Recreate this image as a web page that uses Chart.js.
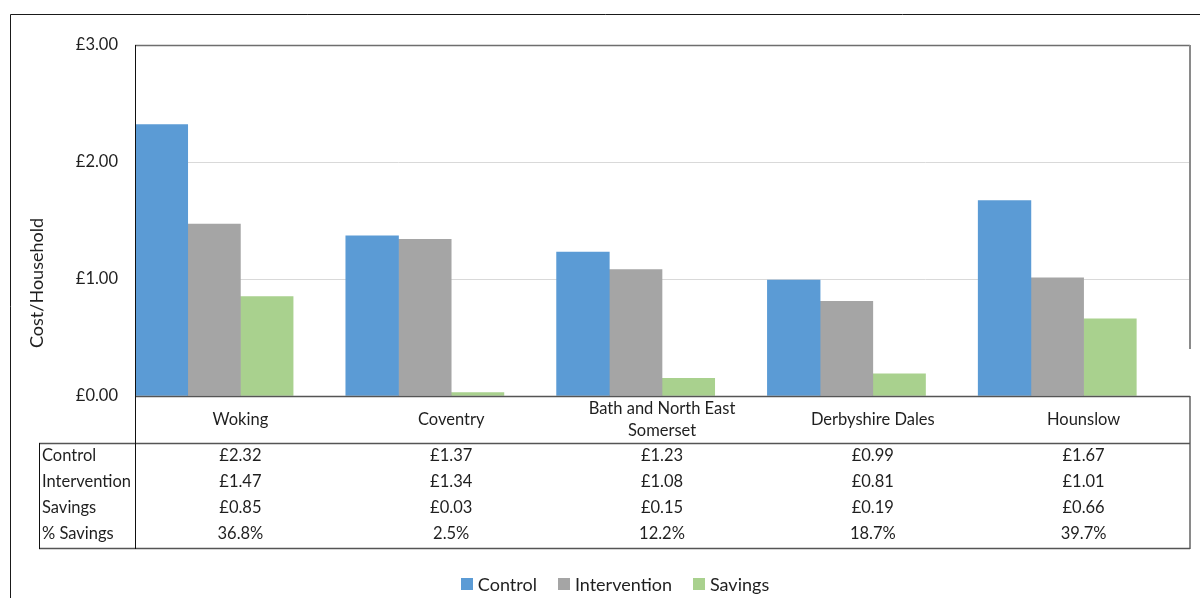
<!DOCTYPE html>
<html>
<head>
<meta charset="utf-8">
<title>Cost per household</title>
<script src="https://cdn.jsdelivr.net/npm/chart.js@4.4.1/dist/chart.umd.min.js"></script>
<style>
  html, body { margin: 0; padding: 0; background: #ffffff; }
  #wrap { width: 1200px; height: 598px; position: relative; }
</style>
</head>
<body>
<div id="wrap"><canvas id="chart" width="1200" height="598"></canvas></div>
<script>
// Councils compared
const categories = ['Woking', 'Coventry', ['Bath and North East', 'Somerset'], 'Derbyshire Dales', 'Hounslow'];

// Cost per household (£)
const controlCost      = [2.32, 1.37, 1.23, 0.99, 1.67];
const interventionCost = [1.47, 1.34, 1.08, 0.81, 1.01];
const savingsCost      = [0.85, 0.03, 0.15, 0.19, 0.66];
// Savings as a percentage of the control cost
const percentSavings   = [36.8, 2.5, 12.2, 18.7, 39.7];

// Value axis ticks
const yTicks = [0, 1, 2, 3];

const FONT = 'Lato, "Open Sans", "Liberation Sans", sans-serif';
const INK = '#1f1f1f';

const money = v => '£' + v.toFixed(2);

// Frame, data table, axis title and legend around the plotted bars
const tablePlugin = {
  id: 'dataTable',
  beforeDraw(chart) {
    const ctx = chart.ctx;
    ctx.save();
    ctx.fillStyle = '#ffffff';
    ctx.fillRect(0, 0, chart.width, chart.height);
    // outer frame
    ctx.strokeStyle = '#1a1a1a';
    ctx.lineWidth = 1;
    ctx.beginPath();
    ctx.moveTo(10.5, 598);
    ctx.lineTo(10.5, 14.5);
    ctx.lineTo(1200, 14.5);
    ctx.stroke();
    ctx.restore();
  },
  afterDraw(chart) {
    const ctx = chart.ctx;
    const area = chart.chartArea;
    const x = chart.scales.x;
    const L = area.left, R = area.right, T = area.top, B = area.bottom;
    const tableLeft = 39;
    const headBottom = 443;
    const tableBottom = 548;
    ctx.save();

    // plot area top border
    ctx.strokeStyle = '#6e6e6e';
    ctx.lineWidth = 1.5;
    ctx.beginPath();
    ctx.moveTo(L, T + 0.5); ctx.lineTo(R + 1, T + 0.5);
    ctx.stroke();

    // right border (upper and table parts)
    ctx.strokeStyle = '#8a8a8a';
    ctx.lineWidth = 2;
    ctx.beginPath();
    ctx.moveTo(R + 1, T); ctx.lineTo(R + 1, 349);
    ctx.moveTo(R + 1, B); ctx.lineTo(R + 1, tableBottom + 1);
    ctx.stroke();

    // table horizontal rules
    ctx.strokeStyle = '#555555';
    ctx.lineWidth = 1.5;
    ctx.beginPath();
    ctx.moveTo(L, B + 0.5); ctx.lineTo(R + 1, B + 0.5);
    ctx.moveTo(tableLeft, headBottom + 0.5); ctx.lineTo(R + 1, headBottom + 0.5);
    ctx.moveTo(tableLeft, tableBottom + 0.5); ctx.lineTo(R + 1, tableBottom + 0.5);
    ctx.stroke();

    // table left edge and value axis line
    ctx.strokeStyle = '#111111';
    ctx.lineWidth = 1;
    ctx.beginPath();
    ctx.moveTo(tableLeft + 0.5, headBottom); ctx.lineTo(tableLeft + 0.5, tableBottom + 1);
    ctx.moveTo(L + 0.5, T); ctx.lineTo(L + 0.5, tableBottom + 1);
    ctx.stroke();

    // table rows
    const rows = [
      { label: 'Control', values: controlCost.map(money) },
      { label: 'Intervention', values: interventionCost.map(money) },
      { label: 'Savings', values: savingsCost.map(money) },
      { label: '% Savings', values: percentSavings.map(v => v.toFixed(1) + '%') }
    ];
    const rowY = [456, 482, 508, 534];
    ctx.font = '16.5px ' + FONT;
    ctx.fillStyle = INK;
    ctx.textBaseline = 'middle';
    rows.forEach((row, r) => {
      ctx.textAlign = 'left';
      ctx.fillText(row.label, 42, rowY[r]);
      ctx.textAlign = 'center';
      row.values.forEach((v, i) => {
        ctx.fillText(v, x.getPixelForTick(i), rowY[r]);
      });
    });

    // value axis title
    ctx.save();
    ctx.translate(37, 283);
    ctx.rotate(-Math.PI / 2);
    ctx.font = '18px ' + FONT;
    ctx.textAlign = 'center';
    ctx.fillText('Cost/Household', 0, 0);
    ctx.restore();

    // legend
    const items = chart.data.datasets.filter(d => d.inLegend);
    ctx.font = '18px ' + FONT;
    const box = 12, gap = 5, spacing = 21;
    const widths = items.map(d => box + gap + ctx.measureText(d.label).width);
    const total = widths.reduce((a, b) => a + b, 0) + spacing * (items.length - 1);
    let lx = 615 - total / 2;
    const ly = 584;
    ctx.textAlign = 'left';
    items.forEach((d, i) => {
      ctx.fillStyle = d.backgroundColor;
      ctx.fillRect(Math.round(lx), ly - 6, box, box);
      ctx.fillStyle = INK;
      ctx.fillText(d.label, lx + box + gap, ly + 1);
      lx += widths[i] + spacing;
    });

    ctx.restore();
  }
};

new Chart(document.getElementById('chart'), {
  type: 'bar',
  data: {
    labels: categories,
    datasets: [
      { label: 'Control', data: controlCost, backgroundColor: '#5B9BD5', inLegend: true },
      { label: 'Intervention', data: interventionCost, backgroundColor: '#A5A5A5', inLegend: true },
      { label: 'Savings', data: savingsCost, backgroundColor: '#A9D18E', inLegend: true },
      // percentage series keeps its slot in each group but has no fill
      { label: '% Savings', data: percentSavings.map(v => v / 100), backgroundColor: 'rgba(0,0,0,0)', inLegend: false }
    ]
  },
  options: {
    responsive: false,
    animation: false,
    devicePixelRatio: 1,
    layout: { padding: { top: 45, right: 11, left: 0, bottom: 0 } },
    datasets: { bar: { categoryPercentage: 1, barPercentage: 1, borderWidth: 0 } },
    plugins: { legend: { display: false }, tooltip: { enabled: false } },
    scales: {
      x: {
        grid: { display: false, drawTicks: false },
        border: { display: false },
        ticks: {
          font: { family: FONT, size: 16.5, lineHeight: 1.333 },
          color: INK,
          padding: 13,
          maxRotation: 0,
          autoSkip: false,
          crossAlign: 'center'
        },
        afterFit(scale) { scale.height = 202; }
      },
      y: {
        min: yTicks[0],
        max: yTicks[yTicks.length - 1],
        afterBuildTicks(scale) { scale.ticks = yTicks.map(v => ({ value: v })); },
        grid: {
          drawTicks: false,
          color: c => (c.tick && c.tick.value > yTicks[0] && c.tick.value < yTicks[yTicks.length - 1]) ? '#d9d9d9' : 'rgba(0,0,0,0)',
          lineWidth: 1
        },
        border: { display: false },
        ticks: {
          font: { family: FONT, size: 16.5 },
          color: INK,
          padding: 17,
          callback: v => money(v)
        },
        afterFit(scale) { scale.width = 135; }
      }
    }
  },
  plugins: [tablePlugin]
});
</script>
</body>
</html>
